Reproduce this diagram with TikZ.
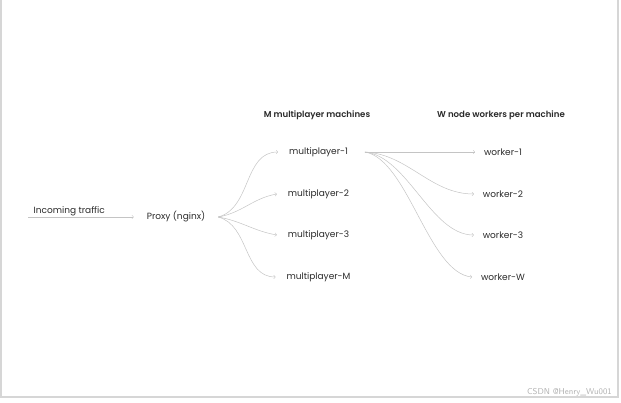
\documentclass[tikz,border=0pt]{standalone}
\usepackage{fontspec}
\setmainfont{Poppins}[BoldFont={Poppins SemiBold}]
\usetikzlibrary{arrows, positioning}
\definecolor{linea}{HTML}{C4C4C4}
\definecolor{texto}{HTML}{2A2A2A}
\definecolor{marco}{HTML}{D6D6D6}

\begin{document}
\begin{tikzpicture}[x=1pt, y=1pt, font=\fontsize{9}{11}\selectfont, text=texto,
    flujo/.style={->, >=to, draw=linea, line width=0.5pt},
    etiqueta/.style={inner sep=0pt, outer sep=11pt},
    titulo/.style={inner sep=0pt, font=\fontsize{8.6}{10}\selectfont\bfseries}]
        % Marco de la imagen
        \useasboundingbox (0,0) rectangle (621,402);
        \draw[marco, line width=1.2pt] (1,402) -- (1,5) -- (618,5) -- (618,402);

        % Titulos de las columnas
        \node[titulo] (tmaq) at (317,287) {M multiplayer machines};
        \node[titulo] (twork) at (501,287) {W node workers per machine};

        % Proxy
        \node[etiqueta, outer sep=13pt] (proxy) at (176,185) {Proxy (nginx)};

        % Maquinas multiplayer
        \node[etiqueta] (mp1) at (318.5,250) {multiplayer-1};
        \node[etiqueta] (mp2) at (318.5,208) {multiplayer-2};
        \node[etiqueta] (mp3) at (318.5,167) {multiplayer-3};
        \node[etiqueta] (mpM) at (318.5,125) {multiplayer-M};

        % Workers de la maquina 1
        \node[etiqueta, outer sep=9pt] (w1) at (503,250) {worker-1};
        \node[etiqueta, outer sep=9pt] (w2) at (503,208) {worker-2};
        \node[etiqueta, outer sep=9pt] (w3) at (503,167) {worker-3};
        \node[etiqueta, outer sep=9pt] (wW) at (503,125) {worker-W};

        % Trafico entrante
        \coordinate (entrada) at (28,185);
        \draw[flujo] (entrada) -- node[pos=0.39, anchor=south, inner sep=1pt] {Incoming traffic} (proxy.west);

        % Del proxy a las maquinas
        \draw[flujo] (proxy.east) to[out=15, in=180] (mp1.west);
        \draw[flujo] (proxy.east) to[out=10, in=190] (mp2.west);
        \draw[flujo] (proxy.east) to[out=-10, in=170] (mp3.west);
        \draw[flujo] (proxy.east) to[out=-15, in=180] (mpM.west);

        % De multiplayer-1 a los workers
        \draw[flujo] ([xshift=6pt]mp1.east) -- (w1.west);
        \draw[flujo] ([xshift=6pt]mp1.east) to[out=-3, in=180, looseness=0.95] (w2.west);
        \draw[flujo] ([xshift=6pt]mp1.east) to[out=-6, in=180, looseness=0.8] (w3.west);
        \draw[flujo] ([xshift=6pt]mp1.east) to[out=-10, in=175, looseness=0.68] (wW.west);

        % Marca de agua
        \node[anchor=east, inner sep=0pt, text=gray!60, font=\sffamily\fontsize{8.5}{10}\selectfont] (marca) at (612,10) {CSDN @Henry\_Wu001};
    \end{tikzpicture}
\end{document}
